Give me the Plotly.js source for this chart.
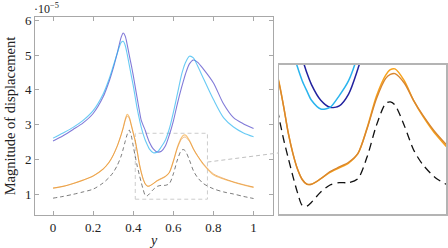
<!DOCTYPE html>
<html><head><meta charset="utf-8">
<script src="https://cdn.plot.ly/plotly-3.0.1.min.js"></script>
<style>html,body{margin:0;padding:0;background:#fff}</style>
</head><body>
<div id="chart" style="width:448px;height:248px"></div>
<script>
// ---- data ----
const xs = [0,0.05,0.1,0.15,0.2,0.25,0.28,0.3,0.32,0.34,0.35,0.36,0.37,0.38,0.39,0.4,0.41,0.42,0.43,0.44,0.45,0.46,0.47,0.48,0.5,0.52,0.54,0.56,0.58,0.6,0.62,0.64,0.65,0.66,0.68,0.7,0.72,0.75,0.8,0.85,0.9,0.95,1.0];
const blueVals = [2.53,2.68,2.86,3.05,3.32,3.80,4.25,4.62,5.05,5.52,5.64,5.55,5.30,5.00,4.72,4.42,4.08,3.75,3.42,3.12,2.97,2.83,2.65,2.50,2.30,2.21,2.23,2.38,2.70,3.10,3.60,4.05,4.25,4.45,4.75,4.86,4.80,4.60,4.20,3.60,3.20,3.02,2.89];
const cyanVals = [2.61,2.76,2.92,3.12,3.40,3.88,4.32,4.68,5.05,5.37,5.40,5.28,5.02,4.72,4.42,4.12,3.78,3.45,3.17,2.92,2.72,2.55,2.42,2.30,2.19,2.21,2.36,2.55,2.88,3.35,3.88,4.42,4.62,4.78,4.97,4.92,4.70,4.33,3.72,3.20,2.93,2.76,2.65];
const orangeVals = [1.17,1.22,1.30,1.40,1.52,1.72,1.92,2.12,2.38,2.72,2.92,3.15,3.30,3.22,3.00,2.76,2.53,2.22,1.88,1.62,1.42,1.29,1.23,1.23,1.30,1.38,1.44,1.50,1.62,1.95,2.35,2.62,2.69,2.70,2.55,2.30,2.10,1.85,1.55,1.43,1.34,1.26,1.19];
const orangeDarkVals = [1.17,1.22,1.30,1.40,1.52,1.72,1.92,2.12,2.38,2.71,2.90,3.12,3.25,3.18,2.98,2.75,2.52,2.22,1.88,1.62,1.42,1.29,1.23,1.23,1.30,1.39,1.45,1.51,1.62,1.94,2.32,2.58,2.63,2.64,2.52,2.30,2.11,1.87,1.58,1.45,1.35,1.27,1.20];
const dashedVals = [0.88,0.93,0.99,1.06,1.14,1.32,1.48,1.62,1.82,2.10,2.30,2.52,2.72,2.84,2.68,2.38,2.08,1.80,1.56,1.33,1.12,0.96,0.95,1.00,1.13,1.22,1.25,1.25,1.30,1.58,1.98,2.26,2.28,2.24,1.98,1.67,1.48,1.30,1.15,1.06,1.00,0.93,0.87];
const xTickVals = [0,0.2,0.4,0.6,0.8,1];
const xTickText = ["0","0.2","0.4","0.6","0.8","1"];
const yTickVals = [1,2,3,4,5,6];
const yTickText = ["1","2","3","4","5","6"];
const zoomX = [0.41, 0.77];
const zoomY = [0.85, 2.75];
const linkY = [1.92, 1.63]; // where the connector meets the box and the inset

// ---- layout geometry ----
const mainXRange = [-0.09, 1.097];
const mainYRange = [0.395, 6.1];
const mainXDom = [0, 0.5791];
const mainYDom = [0, 1];
const insetXDom = [0.5937, 1.0];
const insetYDom = [0.005, 0.7576];

function toPaper(v, dom, rng){ return dom[0] + (v - rng[0])/(rng[1]-rng[0])*(dom[1]-dom[0]); }

const mainStyle = {
  blue:{color:'rgba(75,65,200,0.7)', width:1.1},
  cyan:{color:'rgba(40,180,240,0.7)', width:1.1},
  orange:{color:'rgba(245,160,40,0.65)', width:1.1},
  orangeDark:{color:'rgba(225,140,50,0.6)', width:1.0},
  dashed:{color:'rgba(60,60,60,0.75)', width:0.9, dash:'4px,3px'}
};
const insetStyle = {
  blue:{color:'#22229f', width:1.5},
  cyan:{color:'#2ab4ee', width:1.5},
  orange:{color:'#f7a21b', width:1.5},
  orangeDark:{color:'#d9862e', width:1.4},
  dashed:{color:'#111111', width:1.3, dash:'8px,5px'}
};
const series = [
  ['blue', blueVals], ['cyan', cyanVals], ['orange', orangeVals], ['orangeDark', orangeDarkVals], ['dashed', dashedVals]
];
const traces = [];
series.forEach(([k, vals]) => {
  traces.push({x: xs, y: vals, type:'scatter', mode:'lines', xaxis:'x', yaxis:'y',
    line: Object.assign({shape:'spline', smoothing:0.8}, mainStyle[k]), showlegend:false, hoverinfo:'skip'});
});
series.forEach(([k, vals]) => {
  traces.push({x: xs, y: vals, type:'scatter', mode:'lines', xaxis:'x2', yaxis:'y2',
    line: Object.assign({shape:'spline', smoothing:0.8}, insetStyle[k]), showlegend:false, hoverinfo:'skip'});
});

const serif = 'Liberation Serif, DejaVu Serif, serif';
const frame = '#a8a8a8';
const layout = {
  width:448, height:248,
  margin:{l:35, r:2, t:17, b:33},
  paper_bgcolor:'#fff', plot_bgcolor:'rgba(0,0,0,0)',
  font:{family:serif, size:13, color:'#222'},
  xaxis:{domain:mainXDom, range:mainXRange, tickvals:xTickVals, ticktext:xTickText,
    ticks:'inside', ticklen:4, tickcolor:frame, showline:true, linecolor:frame, linewidth:1,
    mirror:'allticks', showgrid:false, zeroline:false, tickfont:{family:serif, size:13, color:'#222'},
    title:{text:'<i>y</i>', font:{family:serif, size:14, color:'#222'}, standoff:2}},
  yaxis:{domain:mainYDom, range:mainYRange, tickvals:yTickVals, ticktext:yTickText,
    ticks:'inside', ticklen:4, tickcolor:frame, showline:true, linecolor:frame, linewidth:1,
    mirror:'allticks', showgrid:false, zeroline:false, tickfont:{family:serif, size:13, color:'#222'},
    title:{text:'Magnitude of displacement', font:{family:serif, size:14.5, color:'#222'}, standoff:5}},
  xaxis2:{domain:insetXDom, range:zoomX, anchor:'y2', showticklabels:false, ticks:'',
    showline:true, linecolor:'#b4b4b4', linewidth:1.5, mirror:true, showgrid:false, zeroline:false},
  yaxis2:{domain:insetYDom, range:zoomY, anchor:'x2', showticklabels:false, ticks:'',
    showline:true, linecolor:'#b4b4b4', linewidth:1.5, mirror:true, showgrid:false, zeroline:false},
  shapes:[
    {type:'rect', xref:'x', yref:'y', x0:zoomX[0], x1:zoomX[1], y0:zoomY[0], y1:zoomY[1],
      line:{color:'#cccccc', width:1, dash:'4px,3px'}, fillcolor:'rgba(0,0,0,0)', layer:'below'},
    {type:'line', xref:'paper', yref:'paper',
      x0:toPaper(zoomX[1], mainXDom, mainXRange), y0:toPaper(linkY[0], mainYDom, mainYRange),
      x1:toPaper(zoomX[0], insetXDom, zoomX), y1:toPaper(linkY[1], insetYDom, zoomY),
      line:{color:'#c0c0c0', width:1, dash:'4px,3px'}}
  ],
  annotations:[
    {text:'·10<sup>−5</sup>', xref:'paper', yref:'paper', x:-0.008, y:1.09, xanchor:'left', yanchor:'top',
      showarrow:false, font:{family:serif, size:12, color:'#222'}}
  ]
};
Plotly.newPlot('chart', traces, layout, {staticPlot:true, displayModeBar:false});
</script>
</body></html>
